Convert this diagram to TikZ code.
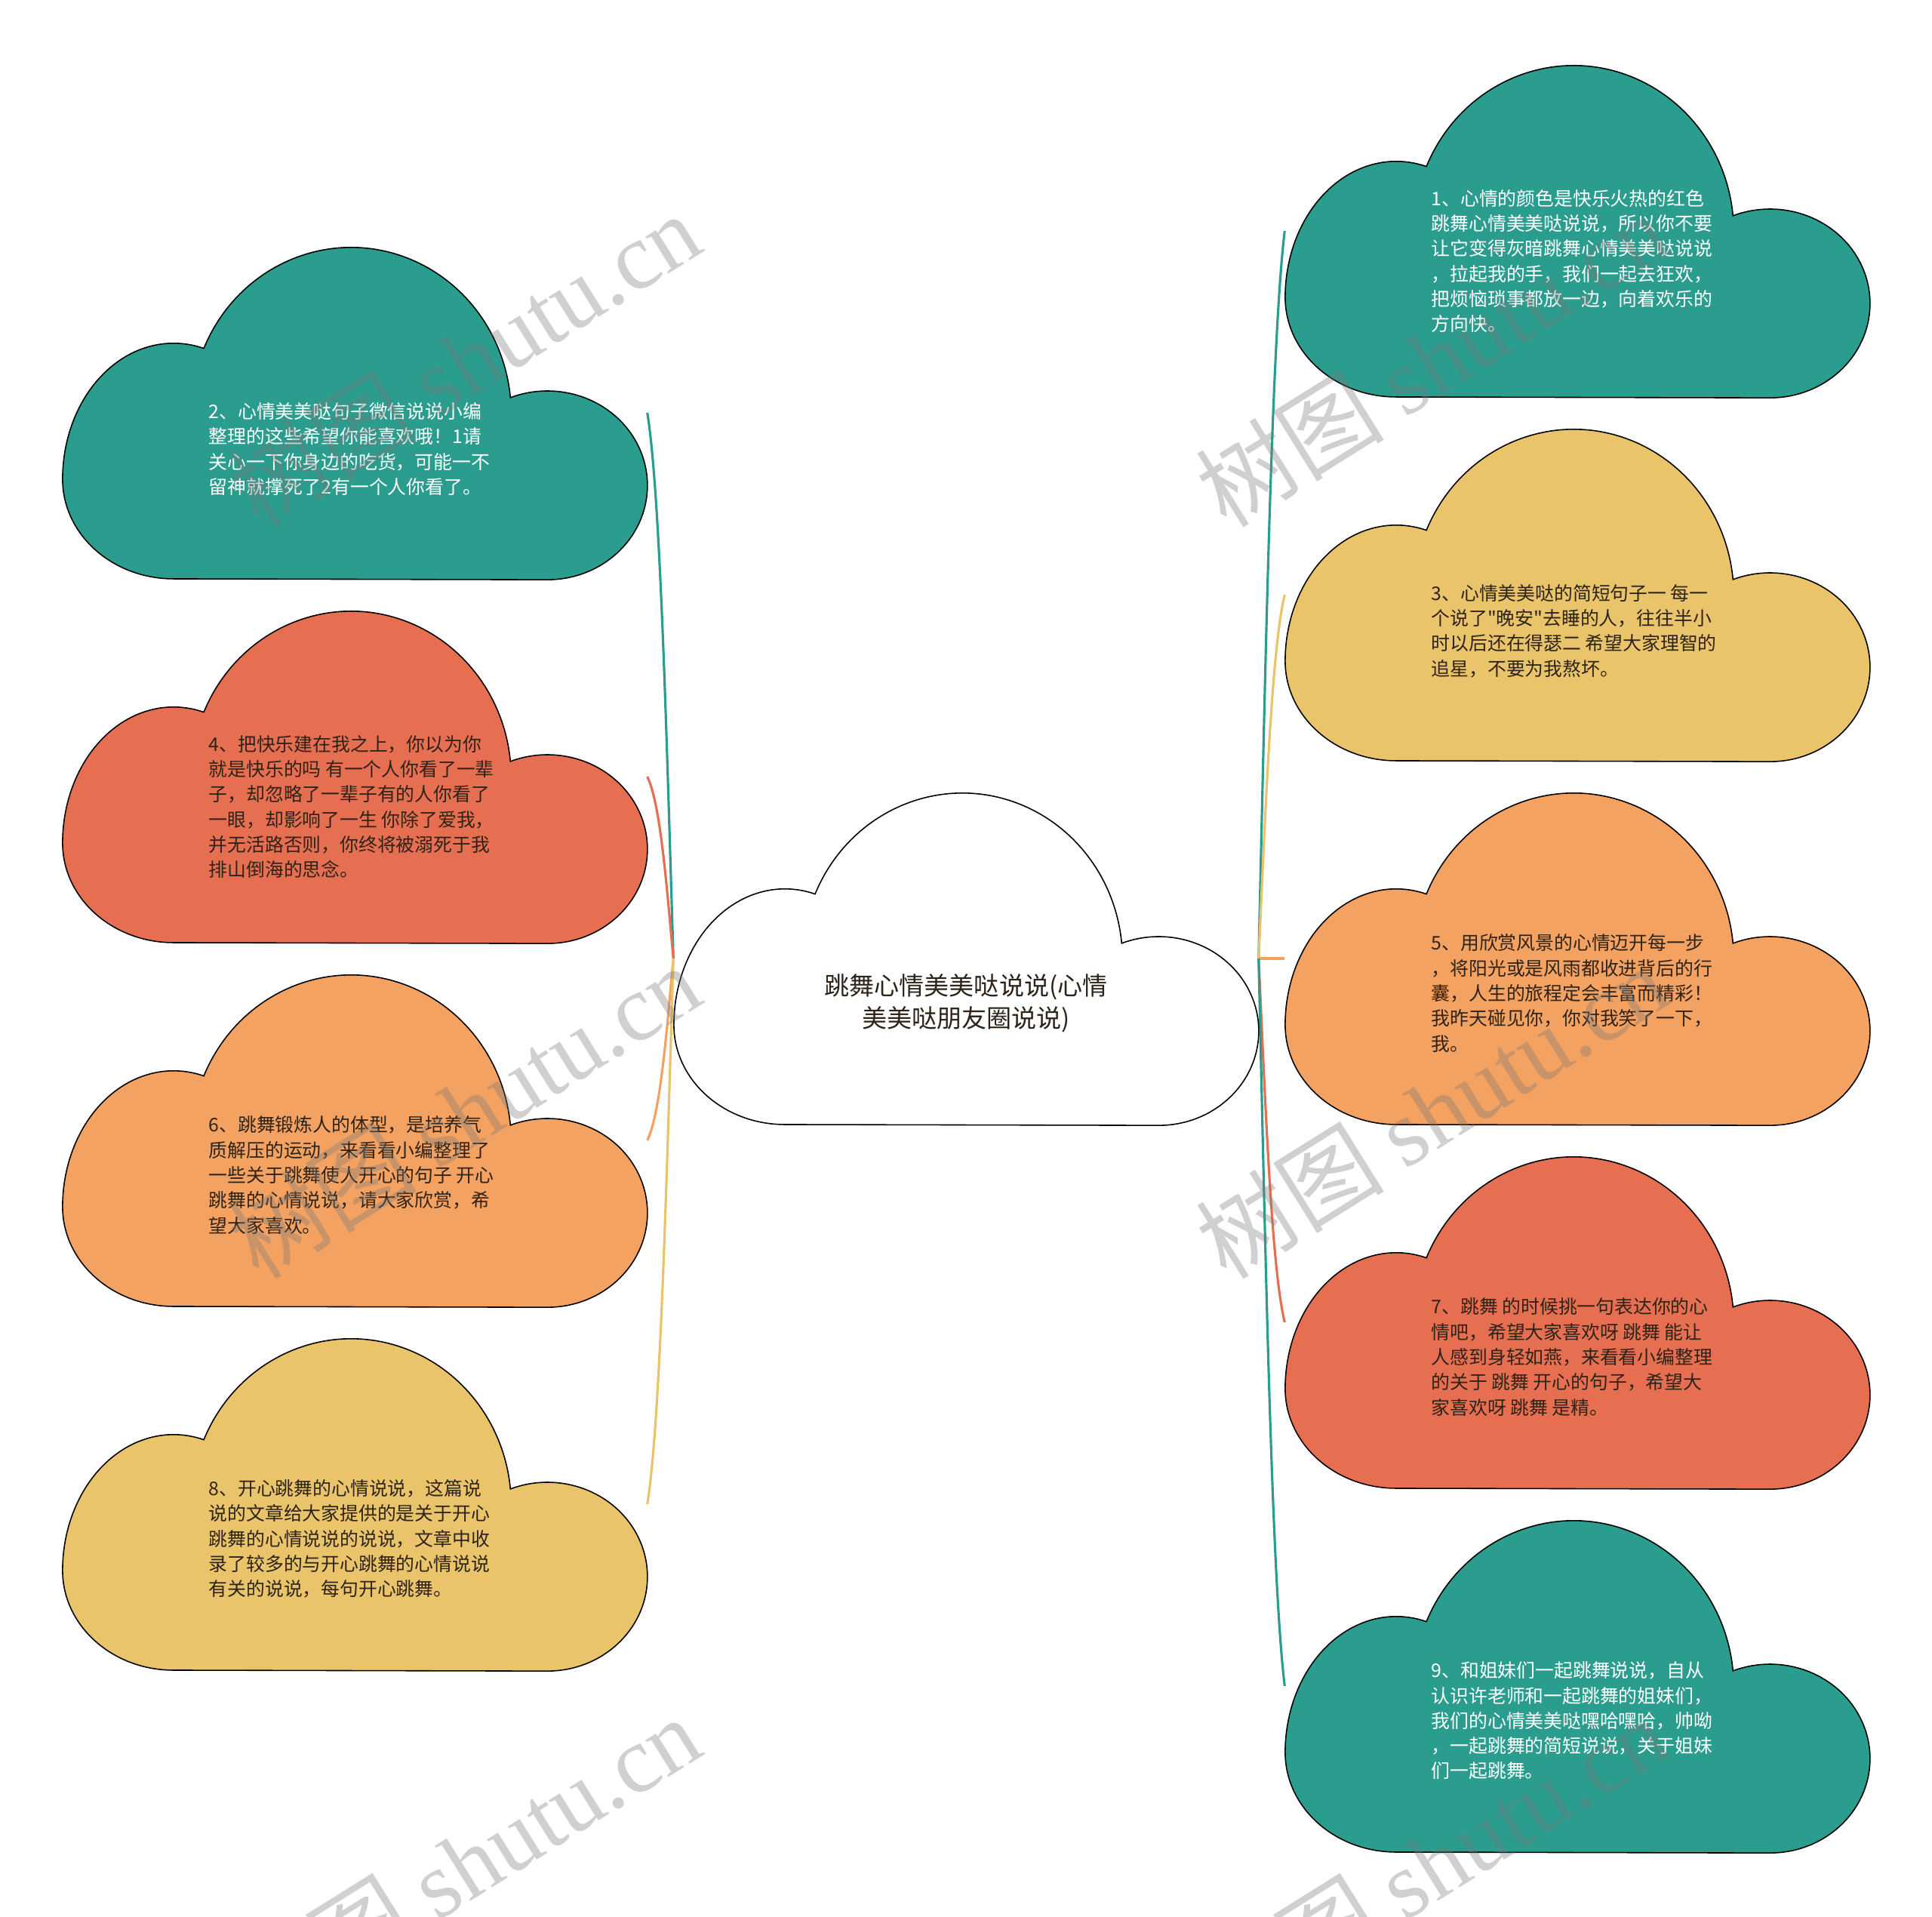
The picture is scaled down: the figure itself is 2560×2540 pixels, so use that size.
\documentclass[tikz,border=0pt]{standalone}
\usepackage{fontspec}
\setmainfont{Noto Sans CJK SC}[Ligatures=TeXOff]
\newfontfamily\wmlatin{Liberation Serif}
\newfontfamily\wmcjk{Noto Sans CJK SC}
\definecolor{cteal}{RGB}{42,157,143}
\definecolor{cyellow}{RGB}{233,196,106}
\definecolor{corange}{RGB}{244,162,97}
\definecolor{cred}{RGB}{231,111,81}
\definecolor{darktext}{RGB}{45,35,25}
\definecolor{wmgray}{RGB}{120,120,120}
\newcommand{\cloudshape}[1]{([shift={(-240,-220)}]#1.center)
  arc[start angle=270,end angle=180,x radius=1.47cm,y radius=1.32cm]
  arc[start angle=180,end angle=74.2,x radius=1.47cm,y radius=1.80cm]
  arc[start angle=156.9,end angle=5.5,x radius=2.12cm,y radius=2.20cm]
  arc[start angle=111.7,end angle=0,x radius=1.325cm,y radius=1.25cm]
  arc[start angle=0,end angle=-90,x radius=1.325cm,y radius=1.25cm] -- cycle}
\begin{document}
\begin{tikzpicture}[x=0.01cm,y=0.01cm,
  cloudbox/.style={minimum width=7.75cm,minimum height=4.4cm,inner sep=0pt,outer sep=0pt},
  cloudline/.style={draw=black,line width=0.45pt},
  conn/.style={line width=0.9pt},
  leaftext/.style={inner sep=0pt,align=left,anchor=west,font=\fontsize{7.06pt}{9.47pt}\selectfont},
  roottext/.style={inner sep=0pt,align=center,text=darktext,font=\fontsize{9.4pt}{12.2pt}\selectfont},
  wm/.style={rotate=32,anchor=base west,text=wmgray,text opacity=0.35,inner sep=0pt,font=\fontsize{35.6pt}{40pt}\selectfont}]
\useasboundingbox (0,0) rectangle (2560,2540);
% node boxes
\node[cloudbox] (root) at (1280,1270) {};
\node[cloudbox] (c1) at (2090,2234) {};
\node[cloudbox] (c3) at (2090,1752) {};
\node[cloudbox] (c5) at (2090,1270) {};
\node[cloudbox] (c7) at (2090,788) {};
\node[cloudbox] (c9) at (2090,306) {};
\node[cloudbox] (c2) at (470,1993) {};
\node[cloudbox] (c4) at (470,1511) {};
\node[cloudbox] (c6) at (470,1029) {};
\node[cloudbox] (c8) at (470,547) {};
% connectors
\draw[conn,cteal] (root.west) .. controls +(-9,289) and +(17.5,-108) .. (c2.east);
\draw[conn,cred] (root.west) .. controls +(-9,96) and +(17.5,-36) .. (c4.east);
\draw[conn,corange] (root.west) .. controls +(-9,-96) and +(17.5,36) .. (c6.east);
\draw[conn,cyellow] (root.west) .. controls +(-9,-289) and +(17.5,108) .. (c8.east);
\draw[conn,cteal] (root.east) .. controls +(9,386) and +(-17.5,-145) .. (c1.west);
\draw[conn,cyellow] (root.east) .. controls +(9,193) and +(-17.5,-72) .. (c3.west);
\draw[conn,corange] (root.east) -- (c5.west);
\draw[conn,cred] (root.east) .. controls +(9,-193) and +(-17.5,72) .. (c7.west);
\draw[conn,cteal] (root.east) .. controls +(9,-386) and +(-17.5,145) .. (c9.west);
% clouds
\draw[cloudline,fill=white] \cloudshape{root};
\draw[cloudline,fill=cteal] \cloudshape{c1};
\draw[cloudline,fill=cyellow] \cloudshape{c3};
\draw[cloudline,fill=corange] \cloudshape{c5};
\draw[cloudline,fill=cred] \cloudshape{c7};
\draw[cloudline,fill=cteal] \cloudshape{c9};
\draw[cloudline,fill=cteal] \cloudshape{c2};
\draw[cloudline,fill=cred] \cloudshape{c4};
\draw[cloudline,fill=corange] \cloudshape{c6};
\draw[cloudline,fill=cyellow] \cloudshape{c8};
% texts
\node[roottext] (rt) at ([shift={(0,-59)}]root.center) {跳舞心情美美哒说说(心情\\美美哒朋友圈说说)};
\node[leaftext,text=white] (t1) at ([shift={(-194,-40)}]c1.center) {1、心情的颜色是快乐火热的红色\\跳舞心情美美哒说说，所以你不要\\让它变得灰暗跳舞心情美美哒说说\\，拉起我的手，我们一起去狂欢，\\把烦恼琐事都放一边，向着欢乐的\\方向快。};
\node[leaftext,text=darktext] (t3) at ([shift={(-194,-48)}]c3.center) {3、心情美美哒的简短句子一 每一\\个说了"晚安"去睡的人，往往半小\\时以后还在得瑟二 希望大家理智的\\追星，不要为我熬坏。};
\node[leaftext,text=darktext] (t5) at ([shift={(-194,-46)}]c5.center) {5、用欣赏风景的心情迈开每一步\\，将阳光或是风雨都收进背后的行\\囊，人生的旅程定会丰富而精彩！\\我昨天碰见你，你对我笑了一下，\\我。};
\node[leaftext,text=darktext] (t7) at ([shift={(-194,-46)}]c7.center) {7、跳舞 的时候挑一句表达你的心\\情吧，希望大家喜欢呀 跳舞 能让\\人感到身轻如燕，来看看小编整理\\的关于 跳舞 开心的句子，希望大\\家喜欢呀 跳舞 是精。};
\node[leaftext,text=white] (t9) at ([shift={(-194,-46)}]c9.center) {9、和姐妹们一起跳舞说说，自从\\认识许老师和一起跳舞的姐妹们，\\我们的心情美美哒嘿哈嘿哈，帅呦\\，一起跳舞的简短说说，关于姐妹\\们一起跳舞。};
\node[leaftext,text=white] (t2) at ([shift={(-194,-48)}]c2.center) {2、心情美美哒句子微信说说小编\\整理的这些希望你能喜欢哦！1请\\关心一下你身边的吃货，可能一不\\留神就撑死了2有一个人你看了。};
\node[leaftext,text=darktext] (t4) at ([shift={(-194,-40)}]c4.center) {4、把快乐建在我之上，你以为你\\就是快乐的吗 有一个人你看了一辈\\子，却忽略了一辈子有的人你看了\\一眼，却影响了一生 你除了爱我，\\并无活路否则，你终将被溺死于我\\排山倒海的思念。};
\node[leaftext,text=darktext] (t6) at ([shift={(-194,-46)}]c6.center) {6、跳舞锻炼人的体型，是培养气\\质解压的运动，来看看小编整理了\\一些关于跳舞使人开心的句子 开心\\跳舞的心情说说，请大家欣赏，希\\望大家喜欢。};
\node[leaftext,text=darktext] (t8) at ([shift={(-194,-46)}]c8.center) {8、开心跳舞的心情说说，这篇说\\说的文章给大家提供的是关于开心\\跳舞的心情说说的说说，文章中收\\录了较多的与开心跳舞的心情说说\\有关的说说，每句开心跳舞。};
% watermarks
\begin{scope}
\clip (0,0) rectangle (2560,2540);
\node[wm] (w1) at (343,1838) {{\wmcjk 树图} {\wmlatin shutu.cn}};
\node[wm] (w2) at (1625,1838) {{\wmcjk 树图} {\wmlatin shutu.cn}};
\node[wm] (w3) at (343,842) {{\wmcjk 树图} {\wmlatin shutu.cn}};
\node[wm] (w4) at (1625,842) {{\wmcjk 树图} {\wmlatin shutu.cn}};
\node[wm] (w5) at (343,-154) {{\wmcjk 树图} {\wmlatin shutu.cn}};
\node[wm] (w6) at (1625,-154) {{\wmcjk 树图} {\wmlatin shutu.cn}};
\end{scope}
\end{tikzpicture}
\end{document}
